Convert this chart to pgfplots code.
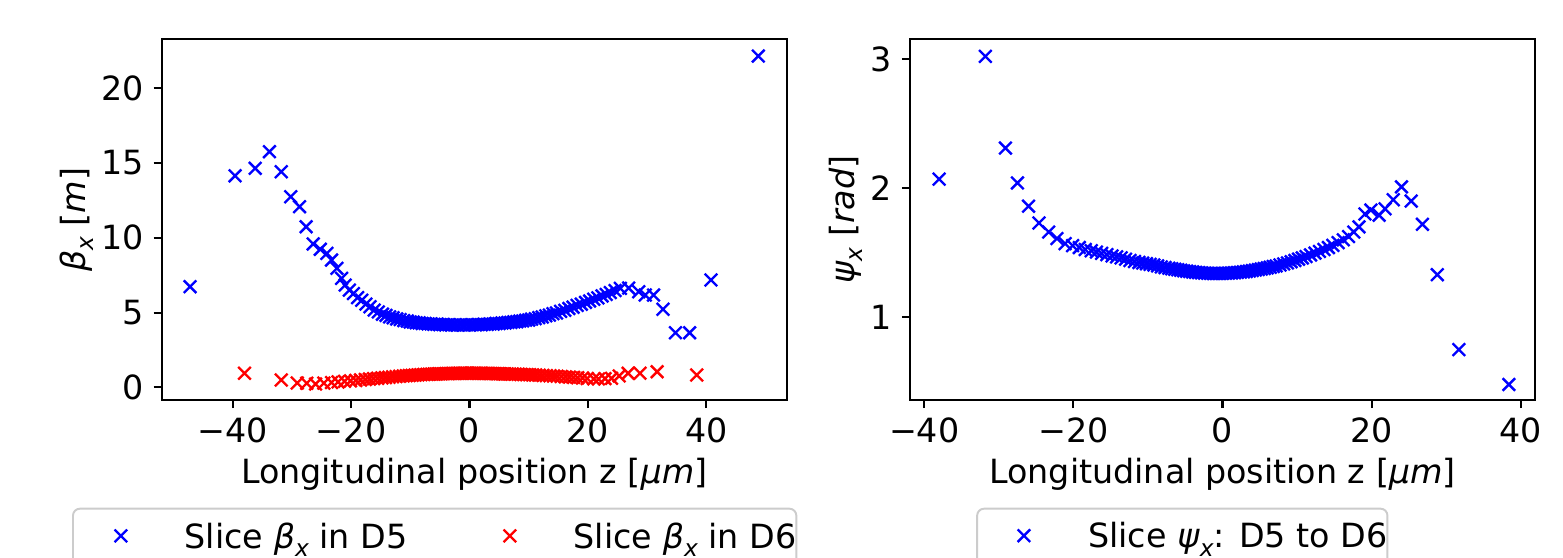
\documentclass[border=0pt]{standalone}
\usepackage{fontspec}
\setmainfont{DejaVu Sans}
\usepackage{pgfplots}
\usepackage{pgfplotstable}
\pgfplotsset{compat=1.18}

% italic subscript x, as in the slice quantities
\newcommand{\sx}{\raisebox{-0.25em}{\fontsize{8.4pt}{8.4pt}\selectfont\itshape x}}
\newcommand{\twelve}{\fontsize{12pt}{14pt}\selectfont}

% slice optics in D5: longitudinal position z [um], beta_x [m]
\pgfplotstableread{
z beta
-47.2 6.73
-39.6 14.15
-36.2 14.65
-33.8 15.76
-31.8 14.42
-30.2 12.75
-28.7 12.08
-27.6 10.74
-26.4 9.59
-25.2 9.23
-24.1 8.96
-23.3 8.51
-22.4 7.96
-21.6 7.29
-21.0 6.84
-20.3 6.50
-19.6 6.27
-18.9 6.00
-18.2 5.82
-17.5 5.57
-16.8 5.39
-16.1 5.17
-15.4 5.04
-14.7 4.89
-14.1 4.81
-13.5 4.71
-12.9 4.65
-12.3 4.57
-11.7 4.53
-11.1 4.46
-10.5 4.43
-10.0 4.37
-9.5 4.36
-9.0 4.31
-8.5 4.31
-8.0 4.27
-7.5 4.27
-7.0 4.24
-6.5 4.24
-6.0 4.21
-5.5 4.22
-5.0 4.19
-4.5 4.20
-4.0 4.17
-3.5 4.19
-3.0 4.16
-2.5 4.18
-2.0 4.16
-1.5 4.18
-1.0 4.16
-0.5 4.18
0.0 4.16
0.5 4.19
1.0 4.17
1.5 4.20
2.0 4.19
2.5 4.22
3.0 4.21
3.5 4.24
4.0 4.23
4.5 4.27
5.0 4.26
5.5 4.30
6.0 4.30
6.5 4.34
7.0 4.34
7.5 4.38
8.0 4.39
8.5 4.43
9.0 4.44
9.5 4.49
10.0 4.50
10.5 4.56
11.1 4.59
11.7 4.66
12.3 4.70
12.9 4.78
13.5 4.83
14.1 4.92
14.7 4.97
15.4 5.08
16.1 5.15
16.8 5.27
17.5 5.36
18.2 5.48
18.9 5.56
19.6 5.68
20.3 5.77
21.0 5.89
21.7 5.98
22.4 6.11
23.1 6.21
23.8 6.34
24.6 6.47
25.5 6.62
26.9 6.64
28.6 6.39
29.7 6.17
31.1 6.17
32.7 5.22
34.8 3.65
37.2 3.65
40.8 7.18
48.8 22.16
}\sliceDfive

% slice optics in D6 and phase advance D5 -> D6
\pgfplotstableread{
z beta psi
-38.0 0.94 2.07
-31.8 0.49 3.02
-29.1 0.29 2.31
-27.5 0.27 2.04
-26.0 0.22 1.86
-24.6 0.28 1.73
-23.3 0.32 1.66
-22.2 0.36 1.61
-21.1 0.40 1.57
-20.1 0.43 1.555
-19.2 0.46 1.54
-18.4 0.49 1.525
-17.6 0.52 1.515
-16.9 0.55 1.505
-16.2 0.58 1.495
-15.5 0.60 1.485
-14.8 0.63 1.475
-14.2 0.65 1.468
-13.6 0.67 1.46
-13.0 0.70 1.45
-12.4 0.72 1.44
-11.8 0.74 1.432
-11.2 0.76 1.425
-10.7 0.775 1.42
-10.2 0.79 1.415
-9.7 0.80 1.41
-9.2 0.815 1.405
-8.7 0.83 1.398
-8.2 0.84 1.39
-7.7 0.855 1.385
-7.2 0.865 1.38
-6.8 0.87 1.376
-6.4 0.88 1.372
-6.0 0.885 1.368
-5.6 0.89 1.364
-5.2 0.90 1.36
-4.8 0.905 1.357
-4.4 0.91 1.354
-4.0 0.915 1.351
-3.6 0.92 1.348
-3.2 0.925 1.346
-2.8 0.93 1.344
-2.4 0.93 1.342
-2.0 0.935 1.341
-1.6 0.935 1.340
-1.2 0.94 1.339
-0.8 0.94 1.339
-0.4 0.94 1.339
0.0 0.94 1.340
0.4 0.94 1.341
0.8 0.94 1.342
1.2 0.94 1.343
1.6 0.935 1.345
2.0 0.935 1.347
2.4 0.93 1.349
2.8 0.93 1.352
3.2 0.925 1.355
3.6 0.92 1.358
4.0 0.92 1.362
4.4 0.915 1.366
4.8 0.91 1.370
5.2 0.905 1.374
5.6 0.90 1.378
6.0 0.895 1.383
6.4 0.89 1.388
6.8 0.885 1.393
7.2 0.88 1.398
7.7 0.875 1.405
8.2 0.87 1.413
8.7 0.86 1.421
9.2 0.855 1.430
9.7 0.845 1.440
10.2 0.84 1.450
10.7 0.83 1.460
11.2 0.82 1.470
11.8 0.81 1.483
12.4 0.795 1.497
13.0 0.78 1.510
13.6 0.77 1.525
14.2 0.755 1.540
14.8 0.74 1.557
15.5 0.72 1.578
16.2 0.70 1.600
16.9 0.68 1.625
17.6 0.66 1.660
18.3 0.64 1.700
19.1 0.62 1.800
19.9 0.59 1.830
21.0 0.56 1.790
21.8 0.56 1.840
22.9 0.58 1.910
24.0 0.60 2.010
25.3 0.76 1.900
26.8 0.94 1.720
28.8 0.94 1.330
31.7 1.04 0.750
38.4 0.82 0.480
}\sliceDsix

\pgfplotsset{
  panel/.style={
    scale only axis, width=225pt, height=129.85pt,
    axis line style={line width=0.75pt},
    tick align=outside, xtick pos=bottom, ytick pos=left,
    major tick length=2.9pt,
    tick style={black, line width=0.75pt},
    tick label style={font=\twelve},
    xtick={-40,-20,0,20,40}, xticklabels={−40,−20,0,20,40},
    xlabel={Longitudinal position z [\textit{μm}]},
    every axis x label/.style={at={(axis description cs:0.5,-0.2309)}, anchor=base, font=\twelve},
    legend style={
      anchor=north west, draw=black!20, line width=0.7pt, rounded corners=2.5pt,
      inner xsep=0pt, inner ysep=5.0pt,
      font=\twelve,
      nodes={inner sep=0pt},
      column sep=0pt,
      cells={anchor=base west},
    },
  },
  slice/.style={only marks, mark=x, mark size=3.2pt, mark options={line width=0.85pt}},
}

\begin{document}
\begin{tikzpicture}
\useasboundingbox (0pt,0pt) rectangle (562.68pt,200.88pt);
\clip (0pt,0pt) rectangle (562.68pt,200.88pt);

% beta_x in D5 and D6
\begin{axis}[panel,
  at={(58.21pt,56.88pt)}, anchor=south west,
  xmin=-52.0, xmax=53.6, ymin=-0.85, ymax=23.28,
  ytick={0,5,10,15,20}, yticklabels={0,5,10,15,20},
  ylabel={\textit{β}\sx{} [\textit{m}]},
  every axis y label/.style={at={(axis description cs:-0.136,0.5)}, rotate=90, anchor=center, font=\twelve},
  legend columns=2,
  legend style={at={(axis description cs:-0.1435,-0.2986)}},
]
\addplot[slice, blue,
  legend image code/.code={\path (-16.9pt,4.4pt) (22.6pt,4.4pt);
    \draw[only marks] plot coordinates {(0pt,4.4pt)};}]
  table[x=z, y=beta] {\sliceDfive};
\addlegendentry{Slice \textit{β}\sx{} in D5}
\addplot[slice, red,
  legend image code/.code={\path (-36.6pt,4.4pt) (22.6pt,4.4pt);
    \draw[only marks] plot coordinates {(0pt,4.4pt)};}]
  table[x=z, y=beta] {\sliceDsix};
\addlegendentry{Slice \textit{β}\sx{} in D6\hspace{4.2pt}}
\end{axis}

% phase advance from D5 to D6
\begin{axis}[panel,
  at={(327.6pt,56.88pt)}, anchor=south west,
  xmin=-41.9, xmax=41.9, ymin=0.36, ymax=3.152,
  ytick={1,2,3}, yticklabels={1,2,3},
  ylabel={\textit{ψ}\sx{} [\textit{rad}]},
  every axis y label/.style={at={(axis description cs:-0.1026,0.5)}, rotate=90, anchor=center, font=\twelve},
  legend style={at={(axis description cs:0.1059,-0.2986)}},
]
\addplot[slice, blue,
  legend image code/.code={\path (-16.5pt,4.4pt) (22.8pt,4.4pt);
    \draw[only marks] plot coordinates {(0pt,4.4pt)};}]
  table[x=z, y=psi] {\sliceDsix};
\addlegendentry{Slice \textit{ψ}\sx: D5 to D6\hspace{4.8pt}}
\end{axis}
\end{tikzpicture}
\end{document}
